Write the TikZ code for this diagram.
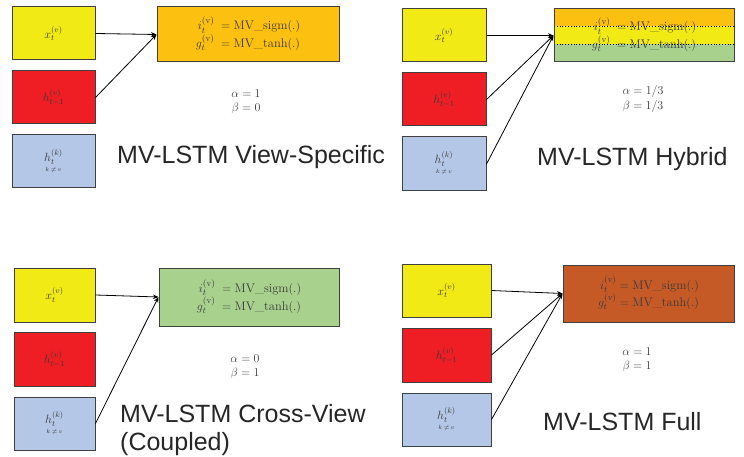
\documentclass[tikz,border=0pt]{standalone}
\usepackage{amsmath}
\usepackage{fontspec}
\newfontfamily\titlefont{Liberation Sans}
\usetikzlibrary{arrows.meta}
\definecolor{cyel}{HTML}{F2EA14}
\definecolor{cred}{HTML}{EE1E24}
\definecolor{cblue}{HTML}{B4C7E7}
\definecolor{corange}{HTML}{FCC010}
\definecolor{cgreen}{HTML}{A9D18E}
\definecolor{cbrown}{HTML}{C55A26}
\definecolor{cborder}{HTML}{404040}
\definecolor{ctxt}{HTML}{3A3A3A}
\definecolor{ctitle}{HTML}{262626}
\tikzset{
  inbox/.style={draw=cborder, line width=1pt, inner sep=0pt, text=ctxt,
    font=\fontsize{12}{14}\selectfont},
  gatebox/.style={draw=cborder, line width=1pt, inner sep=0pt, text=ctxt,
    font=\fontsize{12.5}{15}\selectfont},
  coef/.style={text=ctxt, inner sep=0pt, align=center, font=\fontsize{12}{14.5}\selectfont},
  title/.style={text=ctitle, inner sep=0pt, anchor=base west, font=\titlefont\fontsize{25}{29}\selectfont},
  conn/.style={draw=black, line width=0.8pt, -{Stealth[length=5.5pt,width=4.5pt]}},
}
\newcommand{\xlab}{$x_t^{(v)}$}
\newcommand{\hlab}{$h_{t-1}^{(v)}$}
\newcommand{\klab}{$\mathop{h_t^{(k)}}\limits_{\scriptscriptstyle k\,\neq\, v}$}
\newcommand{\gates}{$\begin{aligned} i_t^{(\mathrm{v})}\; &= \text{MV\_sigm}(.)\\[-4pt] g_t^{(\mathrm{v})}\; &= \text{MV\_tanh}(.)\end{aligned}$}
\newcommand{\gatesfull}{$\begin{aligned} i_t^{(\mathrm{v})} &= \text{MV\_sigm}(.)\\[-4pt] g_t^{(\mathrm{v})} &= \text{MV\_tanh}(.)\end{aligned}$}
\begin{document}
\begin{tikzpicture}[x=1pt,y=-1pt]
\useasboundingbox (0,0) rectangle (744,457);

% ---------- Panel 1: View-Specific ----------
\node[inbox, fill=cyel, minimum width=83, minimum height=53] (x1) at (53.5,33.5) {\xlab};
\node[inbox, fill=cred, minimum width=83, minimum height=53] (r1) at (53.5,97.5) {\hlab};
\node[inbox, fill=cblue, minimum width=83, minimum height=53] (b1) at (53.5,161.5) {\klab};
\node[gatebox, fill=corange, minimum width=182, minimum height=55] (g1) at (248,34.5) {\gates};
\node[coef] (c1) at (246,102) {$\alpha = 1$\\$\beta = 0$};
\node[title] (t1) at (117,164) {MV-LSTM View-Specific};
\draw[conn] (x1.east) -- (g1.west);
\draw[conn] (r1.east) -- (g1.west);

% ---------- Panel 2: Hybrid ----------
\node[inbox, fill=cyel, minimum width=84, minimum height=53] (x2) at (444,35.5) {\xlab};
\node[inbox, fill=cred, minimum width=84, minimum height=53] (r2) at (444,99.5) {\hlab};
\node[inbox, fill=cblue, minimum width=84, minimum height=54] (b2) at (444,164) {\klab};
\fill[corange] (554,9) rectangle (734,26);
\fill[cyel] (554,26) rectangle (734,44);
\fill[cgreen] (554,44) rectangle (734,62);
\draw[black, dotted, line width=0.8pt] (554,26) -- (734,26);
\draw[black, dotted, line width=0.8pt] (554,44) -- (734,44);
\node[gatebox, minimum width=180, minimum height=53] (g2) at (644,35.5) {\gates};
\node[coef] (c2) at (643,99) {$\alpha = 1/3$\\$\beta = 1/3$};
\node[title] (t2) at (537,166) {MV-LSTM Hybrid};
\draw[conn] (x2.east) -- (g2.west);
\draw[conn] (r2.east) -- (g2.west);
\draw[conn] (b2.east) -- (g2.west);

% ---------- Panel 3: Cross-View ----------
\node[inbox, fill=cyel, minimum width=81, minimum height=54] (x3) at (54.5,295) {\xlab};
\node[inbox, fill=cred, minimum width=81, minimum height=54] (r3) at (54.5,359) {\hlab};
\node[inbox, fill=cblue, minimum width=81, minimum height=53] (b3) at (54.5,423.5) {\klab};
\node[gatebox, fill=cgreen, minimum width=180, minimum height=58] (g3) at (249,297) {\gates};
\node[coef] (c3) at (245,367) {$\alpha = 0$\\$\beta = 1$};
\node[title] (t3) at (120,422) {MV-LSTM Cross-View};
\node[title] (t3b) at (120,450) {(Coupled)};
\draw[conn] (x3.east) -- (g3.west);
\draw[conn] (b3.east) -- (g3.west);

% ---------- Panel 4: Full ----------
\node[inbox, fill=cyel, minimum width=89, minimum height=53] (x4) at (446.5,290.5) {\xlab};
\node[inbox, fill=cred, minimum width=89, minimum height=54] (r4) at (446.5,355) {\hlab};
\node[inbox, fill=cblue, minimum width=89, minimum height=53] (b4) at (446.5,419.5) {\klab};
\node[gatebox, fill=cbrown, minimum width=171, minimum height=57] (g4) at (648.5,293.5) {\gatesfull};
\node[coef] (c4) at (637,360) {$\alpha = 1$\\$\beta = 1$};
\node[title] (t4) at (543,430) {MV-LSTM Full};
\draw[conn] (x4.east) -- (g4.west);
\draw[conn] (r4.east) -- (g4.west);
\draw[conn] (b4.east) -- (g4.west);
\end{tikzpicture}
\end{document}
